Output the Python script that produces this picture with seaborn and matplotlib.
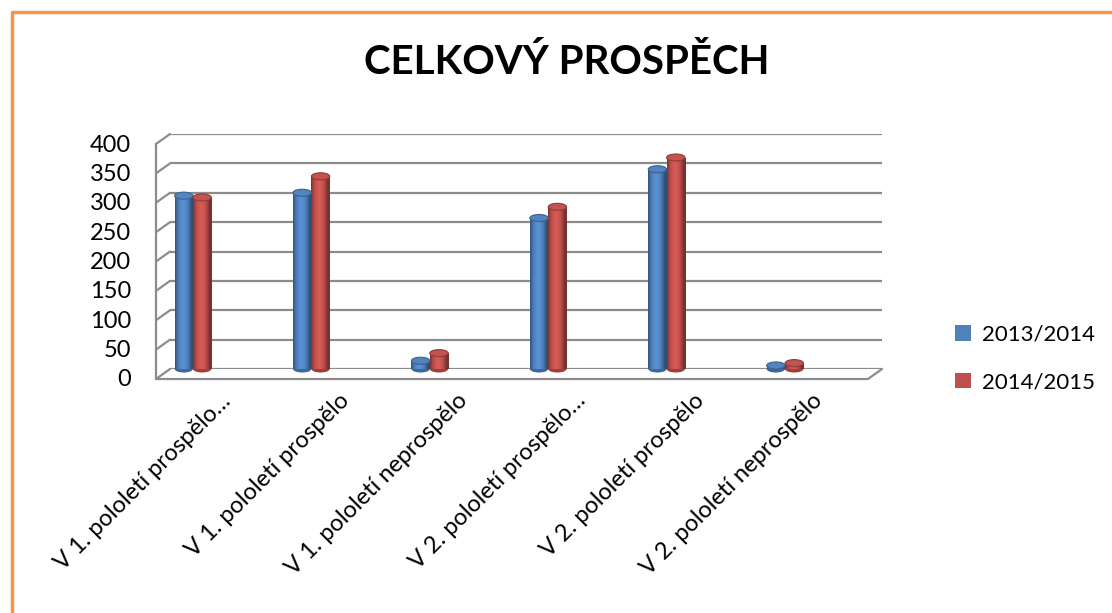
import matplotlib
matplotlib.use("Agg")
import matplotlib.pyplot as plt
import matplotlib.transforms as mtransforms
from matplotlib.lines import Line2D
from matplotlib.patches import Ellipse
from matplotlib.colors import to_rgb
import numpy as np
import seaborn as sns
import pandas as pd

categories = ["V 1. pololetí prospělo…", "V 1. pololetí prospělo", "V 1. pololetí neprospělo",
              "V 2. pololetí prospělo…", "V 2. pololetí prospělo", "V 2. pololetí neprospělo"]
series_names = ["2013/2014", "2014/2015"]
values_2013 = [295, 300, 14, 257, 340, 6]
values_2014 = [292, 328, 27, 276, 360, 10]
yticks = [0, 50, 100, 150, 200, 250, 300, 350, 400]

colors = ["#4F81BD", "#C0504D"]

df = pd.DataFrame({
    "cat": categories * 2,
    "val": values_2013 + values_2014,
    "series": [series_names[0]] * 6 + [series_names[1]] * 6,
})

sns.set_theme(style="white")
plt.rcParams["font.family"] = ["Lato", "DejaVu Sans"]
plt.rcParams["text.color"] = "black"

fig = plt.figure(figsize=(11.12, 6.13), dpi=100)
ax = fig.add_axes([170 / 1112, (613 - 369) / 613, (882 - 170) / 1112, 235 / 613])

sns.barplot(data=df, x="cat", y="val", hue="series", palette=colors, width=0.31,
            ax=ax, saturation=1, gap=0.0, legend=True)

XLIM = (-0.194, 5.819)
YLIM = (0, 400)
ax.set_xlim(*XLIM)
ax.set_ylim(*YLIM)

# cylinder-like shading for each bar
cap_h = 12  # data units for ellipse cap height
for p in list(ax.patches):
    h = p.get_height()
    if h <= 0 or np.isnan(h):
        continue
    base = np.array(to_rgb(p.get_facecolor()))
    x0, w = p.get_x(), p.get_width()
    t = np.linspace(0, 1, 64)
    shade = 0.62 + 0.5 * np.sin(np.pi * np.clip(t * 1.15, 0, 1)) ** 0.8
    shade = np.clip(shade, 0.55, 1.12)
    grad = np.clip(base[None, :] * shade[:, None], 0, 1)[None, :, :]
    im = ax.imshow(grad, extent=[x0, x0 + w, 0, h], aspect="auto", zorder=p.get_zorder(),
                   interpolation="bilinear")
    im.set_clip_path(p)
    p.set_facecolor("none")
    p.set_edgecolor("none")
    ax.add_patch(Ellipse((x0 + w / 2, 0), w, cap_h, facecolor=base * 0.8, edgecolor="none",
                         zorder=p.get_zorder() - 0.01, clip_on=False))
    ax.add_patch(Ellipse((x0 + w / 2, h), w, cap_h,
                         facecolor=np.clip(base * 1.02, 0, 1), edgecolor=base * 0.75,
                         linewidth=0.8, zorder=p.get_zorder() + 0.1, clip_on=False))

ax.set_xlim(*XLIM)
ax.set_ylim(*YLIM)
ax.set_yticks(yticks)
ax.set_yticklabels([])
ax.yaxis.grid(True, color="#8c8c8c", linewidth=1.6)
ax.set_axisbelow(True)
for s in ["top", "right", "bottom", "left"]:
    ax.spines[s].set_visible(False)
ax.set_xlabel("")
ax.set_ylabel("")
ax.tick_params(axis="both", length=0)
ax.set_xticks(range(len(categories)))
ax.set_xticklabels([])

blend = mtransforms.blended_transform_factory(ax.transAxes, ax.transData)

# y tick labels at the front wall
ylab_tr = mtransforms.offset_copy(blend, fig=fig, x=-39, y=-11, units="dots")
for v in yticks:
    ax.text(0, v, str(v), transform=ylab_tr, ha="right", va="center", fontsize=17,
            color="black", clip_on=False)

# category labels rotated
xlab_tr = mtransforms.offset_copy(ax.transData, fig=fig, x=27, y=-21, units="dots")
for i, c in enumerate(categories):
    ax.text(i, 0, c, transform=xlab_tr, rotation=45, rotation_mode="anchor",
            ha="right", va="top", fontsize=17, color="black", clip_on=False)

# pseudo-3D wall / floor edges
shift = mtransforms.offset_copy(blend, fig=fig, x=-14, y=-10, units="dots")
W, H = fig.bbox.width, fig.bbox.height
fig.canvas.draw()
p_bot_f = shift.transform((0, 0))
p_top_f = shift.transform((0, 400))
fig.add_artist(Line2D([p_bot_f[0] / W, p_top_f[0] / W], [p_bot_f[1] / H, p_top_f[1] / H],
                      color="#8c8c8c", lw=1.6))
for v in yticks:
    p0 = blend.transform((0, v))
    p1 = shift.transform((0, v))
    fig.add_artist(Line2D([p0[0] / W, p1[0] / W], [p0[1] / H, p1[1] / H],
                          color="#8c8c8c", lw=1.6))
pr0 = shift.transform((0, 0))
pr1 = shift.transform((1, 0))
pb1 = blend.transform((1, 0))
fig.add_artist(Line2D([pr0[0] / W, pr1[0] / W, pb1[0] / W],
                      [pr0[1] / H, pr1[1] / H, pb1[1] / H],
                      color="#8c8c8c", lw=1.6))

# legend
handles, labels = ax.get_legend_handles_labels()
leg = ax.legend(handles, labels, loc="center left", bbox_to_anchor=(1.075, 0.045), frameon=False,
                fontsize=16, handlelength=0.7, handleheight=0.7, handletextpad=0.5,
                labelspacing=1.25)
for hnd, col in zip(leg.legend_handles, colors):
    hnd.set_facecolor(col)
    hnd.set_edgecolor("none")

fig.text(567 / 1112, 1 - 63 / 613, "CELKOVÝ PROSPĚCH", ha="center", va="center",
         fontsize=29, fontweight="bold", color="black")

# orange border (top & left)
fig.add_artist(Line2D([12 / 1112, 12 / 1112, 1.0], [0.0, 1 - 12 / 613, 1 - 12 / 613],
                      color="#F79646", lw=2.5))

fig.savefig("out.png", dpi=100)
